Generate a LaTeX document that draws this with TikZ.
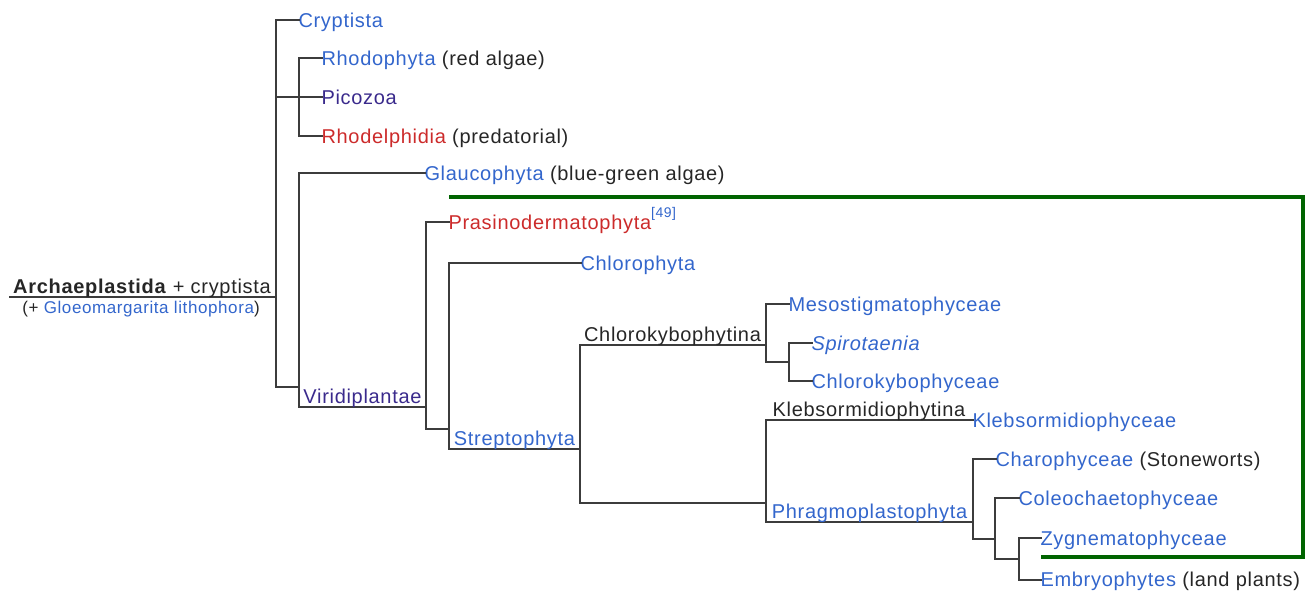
\documentclass[tikz,border=0pt]{standalone}
\usepackage{fontspec}
\setmainfont{Liberation Sans}[LetterSpace=3.5]
\definecolor{lb}{HTML}{3366CC}
\definecolor{vis}{HTML}{3A2A8C}
\definecolor{rl}{HTML}{CC2B2B}
\definecolor{tx}{HTML}{262626}
\definecolor{ln}{HTML}{3C3C3C}
\definecolor{gr}{HTML}{006400}
\tikzset{
  br/.style={draw=ln, line width=1.5pt, line cap=rect},
  grn/.style={draw=gr, line width=2.4pt},
  leaf/.style={anchor=west, inner sep=0pt, outer sep=0pt, text height=10.7pt, text depth=0pt,
    text=tx, font=\fontsize{15}{18}\selectfont},
  ilab/.style={anchor=base, inner sep=0pt, outer sep=0pt, text=tx, font=\fontsize{15}{18}\selectfont},
}
\begin{document}
\begin{tikzpicture}[x=0.75pt, y=-0.75pt]
\useasboundingbox (0,0) rectangle (1307,590);
% root
\coordinate (rootL) at (10,297);
\coordinate (A) at (276,297);
\draw[br] (rootL) -- (A);
\node[ilab] (ttl) at (142,293.5) {\textbf{Archaeplastida} + cryptista};
\node[ilab, font=\fontsize{12.75}{15}\selectfont] (sub) at (141,313) {(+ {\color{lb}Gloeomargarita lithophora})};
% first level
\node[leaf, text=lb] (cry) at (298.5,20) {Cryptista};
\coordinate (B) at (299,97);
\coordinate (C) at (299,387);
\draw[br] (A |- cry.west) -- (A |- C);
\draw[br] (A |- cry.west) -- (cry.west);
\draw[br] (A |- B) -- (B);
\draw[br] (A |- C) -- (C);
% rhodophyta group
\node[leaf] (rho) at (321.5,58) {{\color{lb}Rhodophyta} (red algae)};
\node[leaf, text=vis] (pic) at (321.5,97) {Picozoa};
\node[leaf] (rdl) at (321.5,136) {{\color{rl}Rhodelphidia} (predatorial)};
\draw[br] (B |- rho.west) -- (B |- rdl.west);
\draw[br] (B |- rho.west) -- (rho.west);
\draw[br] (B |- pic.west) -- (pic.west);
\draw[br] (B |- rdl.west) -- (rdl.west);
% glaucophyta + viridiplantae
\node[leaf] (gla) at (424.5,173) {{\color{lb}Glaucophyta} (blue-green algae)};
\coordinate (vir) at (426,407);
\draw[br] (C |- gla.west) -- (C |- vir);
\draw[br] (C |- gla.west) -- (gla.west);
\draw[br] (C |- vir) -- (vir);
\node[ilab, text=vis] (virL) at (362.5,403.5) {Viridiplantae};
% viridiplantae
\node[leaf] (pra) at (448.5,222) {{\color{rl}Prasinodermatophyta}{\color{lb}\fontsize{10.5}{12}\selectfont\raisebox{8.5pt}{[49]}}};
\coordinate (str) at (449,429);
\draw[br] (vir |- pra.west) -- (vir |- str);
\draw[br] (vir |- pra.west) -- (pra.west);
\draw[br] (vir |- str) -- (str);
% chlorophyta / streptophyta
\node[leaf, text=lb] (chl) at (580.5,263) {Chlorophyta};
\coordinate (stp) at (580,449);
\draw[br] (str |- chl.west) -- (str |- stp);
\draw[br] (str |- chl.west) -- (chl.west);
\draw[br] (str |- stp) -- (stp);
\node[ilab, text=lb] (stpL) at (514.5,445.5) {Streptophyta};
% streptophyta
\coordinate (cky) at (765.5,345);
\coordinate (phr0) at (765.5,503);
\draw[br] (stp |- cky) -- (stp |- phr0);
\draw[br] (stp |- cky) -- (cky);
\draw[br] (stp |- phr0) -- (phr0);
\node[ilab] (ckyL) at (672.5,341.5) {Chlorokybophytina};
% chlorokybophytina
\node[leaf, text=lb] (mes) at (788.5,304) {Mesostigmatophyceae};
\coordinate (spc) at (789,362);
\draw[br] (cky |- mes.west) -- (cky |- spc);
\draw[br] (cky |- mes.west) -- (mes.west);
\draw[br] (cky |- spc) -- (spc);
\node[leaf, text=lb] (spi) at (811.5,343) {\textit{Spirotaenia}};
\node[leaf, text=lb] (cph) at (811.5,381) {Chlorokybophyceae};
\draw[br] (spc |- spi.west) -- (spc |- cph.west);
\draw[br] (spc |- spi.west) -- (spi.west);
\draw[br] (spc |- cph.west) -- (cph.west);
% klebsormidiophytina + phragmoplastophyta
\node[leaf, text=lb] (kph) at (972.5,420) {Klebsormidiophyceae};
\coordinate (phr) at (973,522);
\draw[br] (phr0 |- kph.west) -- (phr0 |- phr);
\draw[br] (phr0 |- kph.west) -- (kph.west);
\draw[br] (phr0 |- phr) -- (phr);
\node[ilab] (kltL) at (869,416.5) {Klebsormidiophytina};
\node[ilab, text=lb] (phrL) at (869.5,518.5) {Phragmoplastophyta};
% phragmoplastophyta
\node[leaf] (cha) at (995.5,459) {{\color{lb}Charophyceae} (Stoneworts)};
\coordinate (p2) at (995,539);
\draw[br] (phr |- cha.west) -- (phr |- p2);
\draw[br] (phr |- cha.west) -- (cha.west);
\draw[br] (phr |- p2) -- (p2);
\node[leaf, text=lb] (col) at (1018.5,498) {Coleochaetophyceae};
\coordinate (p3) at (1019,559);
\draw[br] (p2 |- col.west) -- (p2 |- p3);
\draw[br] (p2 |- col.west) -- (col.west);
\draw[br] (p2 |- p3) -- (p3);
\node[leaf, text=lb] (zyg) at (1040.5,538) {Zygnematophyceae};
\node[leaf] (emb) at (1040.5,579.5) {{\color{lb}Embryophytes} (land plants)};
\draw[br] (p3 |- zyg.west) -- (p3 |- emb.west);
\draw[br] (p3 |- zyg.west) -- (zyg.west);
\draw[br] (p3 |- emb.west) -- (emb.west);
% green bracket
\coordinate (g1) at (449,197);
\coordinate (g2) at (1303,197);
\coordinate (g3) at (1303,557);
\coordinate (g4) at (1041,557);
\draw[grn] (g1) -- (g2) -- (g3) -- (g4);
\end{tikzpicture}
\end{document}
